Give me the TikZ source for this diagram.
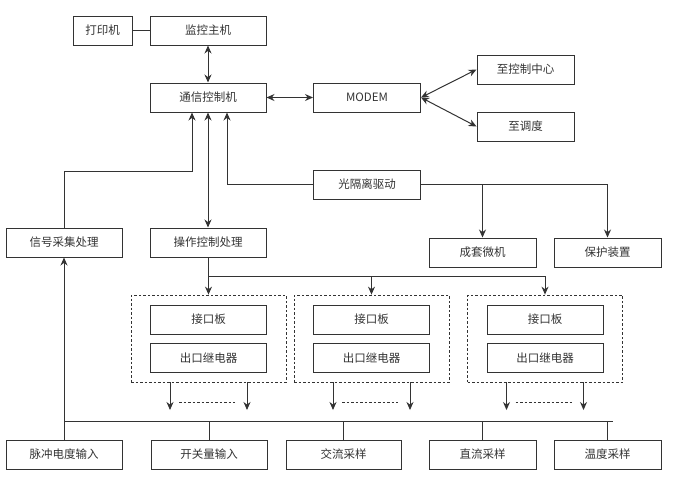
\documentclass[tikz,border=0pt]{standalone}
\usepackage{fontspec}
\setmainfont{Noto Sans CJK SC}
\usetikzlibrary{arrows.meta}
\begin{document}
\begin{tikzpicture}[x=1pt,y=-1pt,
    font=\fontsize{11.5}{13}\selectfont, text=black!80,
    box/.style={draw=black!80,line width=1pt,minimum height=29pt,inner sep=0pt},
    frame/.style={draw=black!80,line width=0.8pt,dash pattern=on 2.5pt off 2pt},
    con/.style={draw=black!80,line width=1pt},
    arr/.style={con,-{Stealth[length=8pt,width=7pt]}},
    darr/.style={con,{Stealth[length=8pt,width=7pt]}-{Stealth[length=8pt,width=7pt]}}]
  \useasboundingbox (0,0) rectangle (695,499);
  % upper part
  \node[box,minimum width=59pt]  (dyj)   at (102.5,30.5) {打印机};
  \node[box,minimum width=116pt] (jkzj)  at (208,30.5)   {监控主机};
  \node[box,minimum width=116pt] (txkz)  at (208,97.5)   {通信控制机};
  \node[box,minimum width=107pt] (modem) at (367,97.5)   {MODEM};
  \node[box,minimum width=97pt]  (zkzx)  at (525.5,69.5) {至控制中心};
  \node[box,minimum width=97pt]  (zdd)   at (525.5,126.5) {至调度};
  \node[box,minimum width=107pt] (ggl)   at (367,184.5)  {光隔离驱动};
  \node[box,minimum width=116pt] (xhcj)  at (64,242.5)   {信号采集处理};
  \node[box,minimum width=116pt] (czkz)  at (208,242.5)  {操作控制处理};
  \node[box,minimum width=107pt] (ctwj)  at (482.5,252.5) {成套微机};
  \node[box,minimum width=107pt] (bhzz)  at (607.5,252.5) {保护装置};
  \draw[con] (dyj) -- (jkzj);
  \draw[darr] (jkzj) -- (txkz);
  \draw[darr] (txkz) -- (modem);
  \draw[darr] (modem.east) -- (zkzx.west);
  \draw[darr] (modem.east) -- (zdd.west);
  \draw[arr] (ggl.west) -| ([xshift=19pt]txkz.south);
  \coordinate (turn) at (64,171);
  \draw[arr] (xhcj.north) -- (turn) -| ([xshift=-16pt]txkz.south);
  \draw[darr] (txkz) -- (czkz);
  \draw[arr] (ggl.east) -| (ctwj.north);
  \draw[arr] (ggl.east) -| (bhzz.north);
  % output groups
  \foreach \n/\cx in {1/208.5,2/371.5,3/545}{
    \node[frame,minimum width=155pt,minimum height=87pt] (grp\n) at (\cx,338.5) {};
    \node[box,minimum width=116pt] (jkb\n)  at (\cx,319.5) {接口板};
    \node[box,minimum width=116pt] (ckjd\n) at (\cx,358)   {出口继电器};
    \coordinate (outL\n) at (\cx-38.5,410);
    \coordinate (outR\n) at (\cx+38.5,410);
    \draw[arr] (grp\n.south -| outL\n) -- (outL\n);
    \draw[arr] (grp\n.south -| outR\n) -- (outR\n);
    \draw[frame] ([xshift=9pt,yshift=8pt]outL\n) -- ([xshift=-12pt,yshift=8pt]outR\n);
  }
  \coordinate (fork) at (208,276);
  \draw[con] (czkz.south) -- (fork) -- (fork -| grp3.north);
  \foreach \n in {1,2,3} \draw[arr] (fork -| grp\n.north) -- (grp\n.north);
  % inputs
  \node[box,minimum width=116pt] (mcdd) at (64,454.5)    {脉冲电度输入};
  \node[box,minimum width=116pt] (kgl)  at (209,454.5)   {开关量输入};
  \node[box,minimum width=115pt] (jlcy) at (343.5,454.5) {交流采样};
  \node[box,minimum width=107pt] (zlcy) at (482.5,454.5) {直流采样};
  \node[box,minimum width=107pt] (wdcy) at (607.5,454.5) {温度采样};
  \coordinate (busL) at (64,421);
  \coordinate (busR) at (613,421);
  \draw[con] (busL) -- (busR);
  \draw[arr] (mcdd.north) -- (xhcj.south);
  \foreach \b in {kgl,jlcy,zlcy,wdcy} \draw[con] (\b.north) -- (\b.north |- busL);
\end{tikzpicture}
\end{document}
